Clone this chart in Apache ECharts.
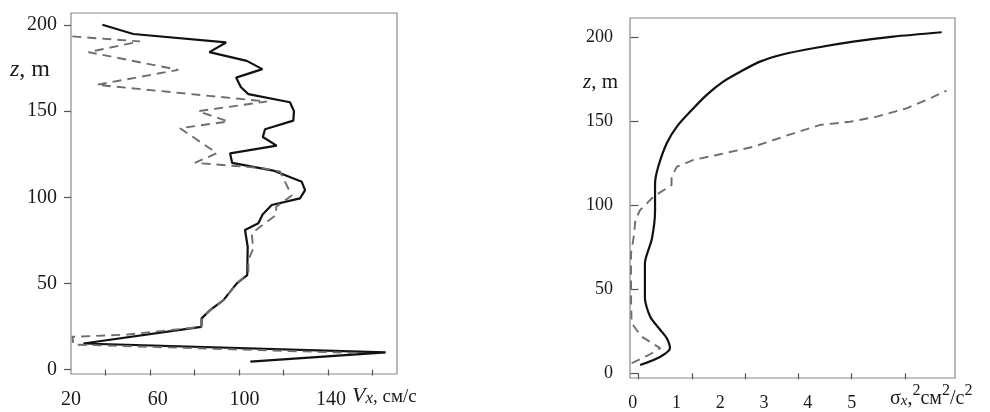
<!DOCTYPE html>
<html>
<head>
<meta charset="utf-8">
<script src="https://cdn.jsdelivr.net/npm/echarts@6/dist/echarts.min.js"></script>
<style>
  html, body { margin: 0; padding: 0; background: #fff; }
  #chart { width: 990px; height: 412px; }
</style>
</head>
<body>
<div id="chart"></div>
<script>
// left panel: Vx (см/с) vs z (m)
var leftSolidVx = [38.5, 52.4, 94.1, 86.6, 103.4, 110.4, 98.6, 100.7, 104.1, 122.8, 124.6, 124.3, 111.6, 110.6, 116.8, 95.9, 96.8, 115.3, 128.1, 129.6, 127.3, 114.6, 110.5, 108.6, 102.6, 103.8, 103.6, 98.9, 92.9, 86.9, 83.1, 83, 30, 165.8, 105];
var leftSolidZ  = [200.2, 194.8, 189.9, 184.3, 179.2, 174.4, 169.5, 164, 159.9, 155.2, 150, 144.5, 139.5, 135, 130, 125.5, 120, 115.5, 109, 104.2, 99.4, 95.5, 90, 84.9, 81, 71.3, 54.8, 50, 40.3, 34.5, 29.7, 24.8, 15.1, 9.9, 4.6];
var leftDashVx  = [25, 55.4, 32.2, 72.6, 36, 112.4, 81.6, 95, 73.4, 89.9, 80.1, 110, 118.3, 123.6, 116.6, 116.6, 109.4, 105.6, 106.3, 104.1, 104.1, 98.9, 92.9, 86.9, 83.1, 83, 50, 25, 25.5, 152.4];
var leftDashZ   = [193.4, 190.5, 184.3, 174, 165.3, 155.6, 150, 144, 140.1, 125.6, 120, 117, 115, 101, 94.5, 89.7, 82.9, 79, 70.3, 63.5, 56, 50, 40.3, 34.5, 29.7, 24.8, 20.3, 19, 14.5, 9.6];

// right panel: sigma_x^2 vs z
var rightSolidS = [0.03, 0.41, 0.59, 0.53, 0.41, 0.22, 0.12, 0.12, 0.25, 0.31, 0.31, 0.37, 0.53, 0.72, 1.0, 1.28, 1.59, 1.91, 2.28, 2.72, 3.28, 4.03, 4.78, 5.69];
var rightSolidZ = [4.9, 9.9, 14.9, 20.9, 25.8, 33.7, 45, 65.6, 80, 97, 113.2, 123.1, 137.1, 147, 156.9, 165.9, 173.8, 179.7, 185.7, 190.1, 193.7, 197.6, 200.6, 203.2];
var rightDashS  = [-0.13, 0.19, 0.41, 0.06, -0.13, -0.14, -0.14, -0.08, -0.06, 0.03, 0.28, 0.62, 0.62, 0.72, 1.03, 1.47, 2.16, 2.91, 3.41, 3.97, 4.47, 5.03, 5.41, 5.78];
var rightDashZ  = [6, 10.9, 14.9, 21.8, 29.8, 43.7, 71.5, 83.4, 91.4, 97.3, 105.2, 112.2, 117.2, 123.1, 127.1, 130.1, 135, 143, 148, 149.9, 152.9, 157.9, 162.9, 168.4];

// ticks and labels
var zTicks = [0, 50, 100, 150, 200];
var leftXTicks = [40, 60, 80, 100, 120, 140, 160];
var leftXLabels = [20, 60, 100, 140];
var rightXTicks = [0, 1, 2, 3, 4, 5];
var rightXLabels = [0, 1, 2, 3, 4, 5];

function zip(a, b) {
  var out = [];
  for (var i = 0; i < a.length; i++) out.push([a[i], b[i]]);
  return out;
}

var serif = 'Liberation Serif';
var textColor = '#1a1a1a';
var boxColor = '#8a8a8a';

function dataX(grid, min, max, ticks) {
  return {
    type: 'value', gridIndex: grid, position: 'bottom', min: min, max: max,
    axisLine: { show: false },
    axisTick: { show: true, inside: false, length: 6, customValues: ticks, lineStyle: { color: '#555', width: 1.2 } },
    axisLabel: { show: false },
    splitLine: { show: false }
  };
}
function labelX(grid, min, max, labels, size) {
  return {
    type: 'value', gridIndex: grid, position: 'bottom', min: min, max: max,
    axisLine: { show: false },
    axisTick: { show: false },
    axisLabel: { show: true, customValues: labels, margin: 16, color: textColor, fontFamily: serif, fontSize: size },
    splitLine: { show: false }
  };
}
function yAx(grid, min, max, size, margin, tickLen) {
  return {
    type: 'value', gridIndex: grid, min: min, max: max,
    axisLine: { show: false },
    axisTick: { show: true, length: tickLen, customValues: zTicks, lineStyle: { color: '#555', width: 1.2 } },
    axisLabel: { show: true, customValues: zTicks, margin: margin, color: textColor, fontFamily: serif, fontSize: size },
    splitLine: { show: false }
  };
}

var chart = echarts.init(document.getElementById('chart'));
chart.setOption({
  animation: false,
  backgroundColor: '#fff',
  grid: [
    { left: 71, top: 13, width: 326, height: 361, show: true, borderColor: boxColor, borderWidth: 1.2, backgroundColor: 'transparent' },
    { left: 630, top: 18, width: 325, height: 360, show: true, borderColor: boxColor, borderWidth: 1.2, backgroundColor: 'transparent' }
  ],
  xAxis: [
    dataX(0, 24.4, 170.9, leftXTicks),
    labelX(0, 20, 170.4, leftXLabels, 20),
    dataX(1, -0.16, 5.94, rightXTicks),
    labelX(1, -0.06, 7.36, rightXLabels, 18)
  ],
  yAxis: [
    yAx(0, -2.6, 207, 20, 14, 7),
    yAx(1, -2.8, 211.7, 18, 17, 8)
  ],
  series: [
    { type: 'line', xAxisIndex: 0, yAxisIndex: 0, data: zip(leftSolidVx, leftSolidZ), showSymbol: false,
      lineStyle: { color: '#111', width: 2.2 } },
    { type: 'line', xAxisIndex: 0, yAxisIndex: 0, data: zip(leftDashVx, leftDashZ), showSymbol: false,
      lineStyle: { color: '#6e6e6e', width: 1.9, type: [9, 6] } },
    { type: 'line', xAxisIndex: 2, yAxisIndex: 1, data: zip(rightSolidS, rightSolidZ), showSymbol: false, smooth: 0.25,
      lineStyle: { color: '#111', width: 2.2 } },
    { type: 'line', xAxisIndex: 2, yAxisIndex: 1, data: zip(rightDashS, rightDashZ), showSymbol: false,
      lineStyle: { color: '#6e6e6e', width: 1.9, type: [9, 6] } }
  ],
  graphic: [
    { type: 'text', x: 10, y: 70, style: {
        text: '{i|z}{n|, m}', verticalAlign: 'middle', fill: textColor,
        rich: { i: { fontFamily: serif, fontSize: 24, fontStyle: 'italic', fill: textColor },
                n: { fontFamily: serif, fontSize: 24, fill: textColor } } } },
    { type: 'text', x: 583, y: 82, style: {
        text: '{i|z}{n|, m}', verticalAlign: 'middle', fill: textColor,
        rich: { i: { fontFamily: serif, fontSize: 21, fontStyle: 'italic', fill: textColor },
                n: { fontFamily: serif, fontSize: 21, fill: textColor } } } },
    { type: 'text', x: 352, y: 396, style: {
        text: '{v|V}{s|x}{n|, см/с}', verticalAlign: 'middle', fill: textColor,
        rich: { v: { fontFamily: serif, fontSize: 22, fontStyle: 'italic', fill: textColor, verticalAlign: 'bottom' },
                s: { fontFamily: serif, fontSize: 17, fontStyle: 'italic', fill: textColor, verticalAlign: 'bottom' },
                n: { fontFamily: serif, fontSize: 19, fill: textColor, verticalAlign: 'bottom' } } } },
    { type: 'text', x: 890, y: 396, style: {
        text: '{n|σ}{s|x}{n|,}{p|2}{n|см}{p|2}{n|/с}{p|2}', verticalAlign: 'middle', fill: textColor,
        rich: { n: { fontFamily: serif, fontSize: 20, fill: textColor, verticalAlign: 'bottom', lineHeight: 26 },
                s: { fontFamily: serif, fontSize: 15, fontStyle: 'italic', fill: textColor, verticalAlign: 'bottom', lineHeight: 26 },
                p: { fontFamily: serif, fontSize: 16, fill: textColor, verticalAlign: 'top', lineHeight: 26 } } } }
  ]
});
</script>
</body>
</html>
